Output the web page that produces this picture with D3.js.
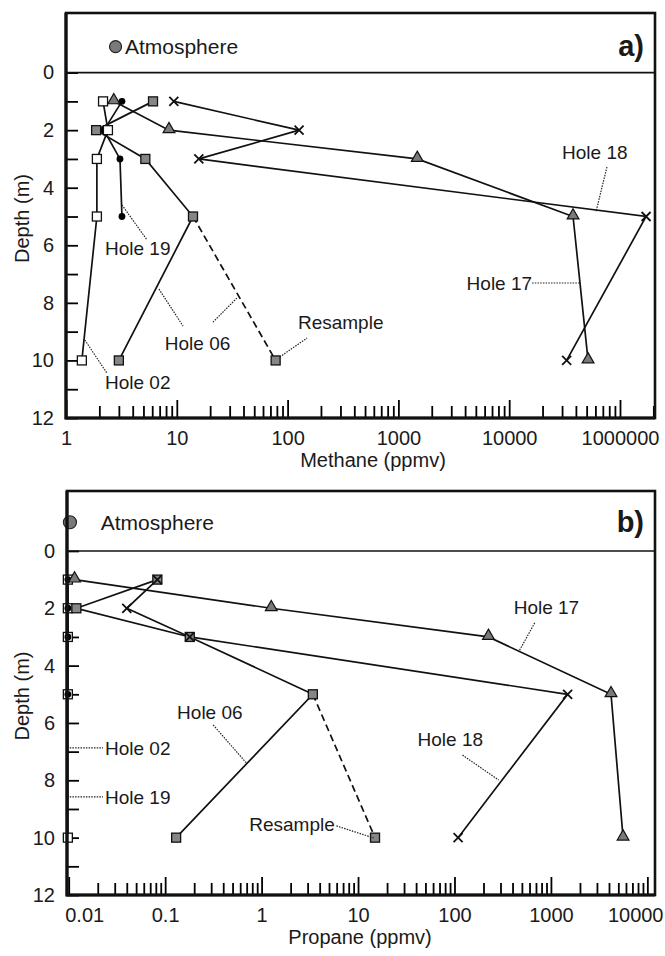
<!DOCTYPE html>
<meta charset="utf-8">
<head>
<script src="https://cdn.jsdelivr.net/npm/d3@7"></script>
<style>
  body { margin: 0; background: #fff; }
  svg text { font-family: "Liberation Sans", Arial, sans-serif; fill: #1a1a1a; }
</style>
</head>
<body>
<script>

// sampling depths (m)
var depths = [1, 2, 3, 5, 10];
var depths19 = [1, 2, 3, 5];
var depthTicks = [0, 1, 2, 3, 4, 5, 6, 7, 8, 9, 10, 11, 12];

// a) methane (ppmv)
var ch4Hole02 = [2.16, 2.39, 1.9, 1.9, 1.39];
var ch4Hole19 = [3.2, 2.2, 3.07, 3.2];
var ch4Hole17 = [2.7, 8.5, 1480, 37700, 51500];
var ch4Hole06 = [6.1, 1.87, 5.2, 14, 3.0];
var ch4Hole18 = [9.4, 127, 15.8, 172000, 33000];
var ch4Resample = 78;
var ch4Atmosphere = 2.8;
var ch4Ticks = [1, 10, 100, 1000, 10000, 100000];
var ch4TickLabels = ["1", "10", "100", "1000", "10000", "1000000"];

// b) propane (ppmv)
var c3Hole02 = [0.0098, 0.0098, 0.0098, 0.0098, 0.0098];
var c3Hole19 = [0.0098, 0.0098, 0.0098, 0.0098];
var c3Hole17 = [0.0115, 1.26, 225, 4200, 5600];
var c3Hole06 = [0.083, 0.012, 0.18, 3.4, 0.13];
var c3Hole18 = [0.083, 0.04, 0.18, 1490, 109];
var c3Resample = 15;
var c3Atmosphere = 0.0103;
var c3Ticks = [0.01, 0.1, 1, 10, 100, 1000, 10000];
var c3TickLabels = ["0.01", "0.1", "1", "10", "100", "1000", "10000"];

var W = 665, H = 956;

var svg = d3.select("body").append("svg")
    .attr("width", W)
    .attr("height", H);

function zip(vals, ds) {
  return vals.map(function(v, i) { return {v: v, d: ds[i]}; });
}

function drawPanel(o) {
  var g = svg.append("g");
  var x = d3.scaleLog().domain(o.xDomain).range([o.left, o.right]);
  var y = d3.scaleLinear().domain([o.yTop, 12]).range([o.top, o.bottom]);

  // minor log ticks
  var minor = [];
  var lo = Math.floor(Math.log10(o.xDomain[0])), hi = Math.ceil(Math.log10(o.xDomain[1]));
  for (var e = lo; e < hi; e++) {
    for (var k = 2; k <= 9; k++) {
      var v = k * Math.pow(10, e);
      if (v > o.xDomain[0] && v < o.xDomain[1]) minor.push(v);
    }
  }

  g.append("g")
      .attr("transform", "translate(0," + o.bottom + ")")
      .call(d3.axisBottom(x).tickValues(minor).tickSizeInner(-12).tickSizeOuter(0).tickFormat(""))
      .call(function(s) { s.select(".domain").remove(); s.selectAll("line").attr("stroke-width", 1.8); });

  var xa = g.append("g")
      .attr("transform", "translate(0," + o.bottom + ")")
      .call(d3.axisBottom(x).tickValues(o.ticks).tickSizeInner(-18).tickSizeOuter(0).tickPadding(13)
        .tickFormat(function(d, i) { return o.tickLabels[i]; }));
  xa.select(".domain").remove();
  xa.selectAll("line").attr("stroke-width", 1.8);
  xa.selectAll("text").style("font-size", "20px").attr("fill", "#1a1a1a")
    .each(function(d) {
      var t = d3.select(this), w = this.getComputedTextLength(), px = x(d);
      if (px - w / 2 < o.left - 6) t.attr("text-anchor", "start").attr("x", -4);
      else if (px + w / 2 > W - 2) t.attr("text-anchor", "end").attr("x", W - 2 - px);
    });

  var ya = g.append("g")
      .attr("transform", "translate(" + o.left + ",0)")
      .call(d3.axisLeft(y).tickValues(depthTicks).tickSizeInner(-12).tickSizeOuter(0).tickPadding(12)
        .tickFormat(function(d) { return d % 2 === 0 ? d : ""; }));
  ya.select(".domain").remove();
  ya.selectAll("line").attr("stroke-width", 1.8);
  ya.selectAll("text").style("font-size", "20px").attr("fill", "#1a1a1a");

  // ground surface line
  g.append("line")
      .attr("x1", o.left).attr("x2", o.right)
      .attr("y1", y(0)).attr("y2", y(0))
      .attr("stroke", "#111").attr("stroke-width", 1.6);

  var line = d3.line().x(function(d) { return x(d.v); }).y(function(d) { return y(d.d); });

  // resample (dashed)
  g.append("path")
      .datum([{v: o.hole06[3], d: 5}, {v: o.resample, d: 10}])
      .attr("d", line)
      .attr("fill", "none").attr("stroke", "#111").attr("stroke-width", 1.7)
      .attr("stroke-dasharray", "7,4");

  o.series.forEach(function(s) {
    g.append("path")
        .datum(s.pts)
        .attr("d", line)
        .attr("fill", "none").attr("stroke", "#111").attr("stroke-width", 1.7);
  });

  var allSeries = o.series.concat([{marker: "greySquare", pts: [{v: o.resample, d: 10}]}]);
  allSeries.forEach(function(s) {
    var m = g.selectAll(null).data(s.pts).enter();
    if (s.marker === "openSquare" || s.marker === "greySquare") {
      m.append("rect")
          .attr("x", function(d) { return x(d.v) - 4.5; })
          .attr("y", function(d) { return y(d.d) - 4.5; })
          .attr("width", 9).attr("height", 9)
          .attr("fill", s.marker === "openSquare" ? "#fff" : "#868686")
          .attr("stroke", "#111").attr("stroke-width", 1.3);
    } else if (s.marker === "dot") {
      m.append("circle")
          .attr("cx", function(d) { return x(d.v); })
          .attr("cy", function(d) { return y(d.d); })
          .attr("r", 3.4).attr("fill", "#000");
    } else if (s.marker === "triangle") {
      m.append("path")
          .attr("transform", function(d) { return "translate(" + x(d.v) + "," + (y(d.d) - 1) + ")"; })
          .attr("d", d3.symbol().type(d3.symbolTriangle).size(60))
          .attr("fill", "#7a7a7a").attr("stroke", "#111").attr("stroke-width", 1.2);
    } else if (s.marker === "cross") {
      m.append("path")
          .attr("transform", function(d) { return "translate(" + x(d.v) + "," + y(d.d) + ")"; })
          .attr("d", "M-4.5,-4.5L4.5,4.5M-4.5,4.5L4.5,-4.5")
          .attr("stroke", "#111").attr("stroke-width", 1.8);
    }
  });

  // annotations
  o.notes.forEach(function(n) {
    n.leaders.forEach(function(l) {
      g.append("line")
          .attr("x1", x(l[0])).attr("y1", y(l[1]))
          .attr("x2", x(l[2])).attr("y2", y(l[3]))
          .attr("stroke", "#222").attr("stroke-width", 1.2)
          .attr("stroke-dasharray", "1.5,1.2");
    });
    g.append("text")
        .attr("x", x(n.x)).attr("y", y(n.y))
        .attr("text-anchor", n.anchor || "start")
        .style("font-size", "19px")
        .text(n.text);
  });

  // atmosphere
  g.append("circle")
      .attr("cx", x(o.atmos)).attr("cy", y(o.atmosDepth))
      .attr("r", o.atmosR)
      .attr("fill", "#7a7a7a").attr("stroke", "#222").attr("stroke-width", 1.2);
  g.append("text")
      .attr("x", x(o.atmosLabelX)).attr("y", y(o.atmosDepth)).attr("dy", "0.35em")
      .style("font-size", "21px")
      .text("Atmosphere");

  // frame
  g.append("rect")
      .attr("x", o.left).attr("y", o.top)
      .attr("width", o.right - o.left).attr("height", o.bottom - o.top)
      .attr("fill", "none").attr("stroke", "#111").attr("stroke-width", 2.6);
  g.append("path")
      .attr("d", "M" + o.left + "," + o.top + "V" + o.bottom + "H" + o.right)
      .attr("fill", "none").attr("stroke", "#111").attr("stroke-width", 3.2);

  // panel letter
  g.append("text")
      .attr("x", o.right - 11).attr("y", y(o.atmosDepth)).attr("dy", "0.33em")
      .attr("text-anchor", "end")
      .style("font-size", "29px").style("font-weight", "bold")
      .text(o.letter);

  // axis titles
  g.append("text")
      .attr("transform", "translate(" + 29 + "," + ((o.top + o.bottom) / 2 + 3) + ") rotate(-90)")
      .attr("text-anchor", "middle")
      .style("font-size", "20px")
      .text("Depth (m)");
  g.append("text")
      .attr("x", o.titleX).attr("y", o.bottom + 49)
      .attr("text-anchor", "middle")
      .style("font-size", "20px")
      .text(o.title);
}

drawPanel({
  letter: "a)", title: "Methane (ppmv)", titleX: 373,
  left: 66, right: 655, top: 13, bottom: 418,
  xDomain: [1, 207000], yTop: -2.07,
  ticks: ch4Ticks, tickLabels: ch4TickLabels,
  hole06: ch4Hole06, resample: ch4Resample,
  atmos: ch4Atmosphere, atmosDepth: -0.9, atmosR: 6, atmosLabelX: 3.4,
  series: [
    {marker: "dot", pts: zip(ch4Hole19, depths19)},
    {marker: "openSquare", pts: zip(ch4Hole02, depths)},
    {marker: "greySquare", pts: zip(ch4Hole06, depths)},
    {marker: "triangle", pts: zip(ch4Hole17, depths)},
    {marker: "cross", pts: zip(ch4Hole18, depths)}
  ],
  notes: [
    {text: "Hole 19", x: 2.25, y: 6.34, leaders: [[3.2, 4.6, 5.4, 5.82]]},
    {text: "Hole 06", x: 7.8, y: 9.64, leaders: [[6.9, 7.52, 11.4, 8.81], [21.2, 8.67, 34.9, 7.83]]},
    {text: "Hole 02", x: 2.25, y: 11.0, leaders: [[1.48, 9.29, 2.34, 10.44]]},
    {text: "Resample", x: 124, y: 8.91, leaders: [[85, 9.88, 150, 9.22]]},
    {text: "Hole 17", x: 16100, y: 7.55, anchor: "end", leaders: [[16100, 7.31, 43500, 7.31]]},
    {text: "Hole 18", x: 30000, y: 3.0, leaders: [[76300, 3.28, 60700, 4.84]]}
  ]
});

drawPanel({
  letter: "b)", title: "Propane (ppmv)", titleX: 360,
  left: 67, right: 655, top: 491, bottom: 895,
  xDomain: [0.0096, 12000], yTop: -2.09,
  ticks: c3Ticks, tickLabels: c3TickLabels,
  hole06: c3Hole06, resample: c3Resample,
  atmos: c3Atmosphere, atmosDepth: -1.0, atmosR: 6.5, atmosLabelX: 0.0215,
  series: [
    {marker: "openSquare", pts: zip(c3Hole02, depths)},
    {marker: "dot", pts: zip(c3Hole19, depths19)},
    {marker: "greySquare", pts: zip(c3Hole06, depths)},
    {marker: "triangle", pts: zip(c3Hole17, depths)},
    {marker: "cross", pts: zip(c3Hole18, depths)}
  ],
  notes: [
    {text: "Hole 06", x: 0.133, y: 5.86, leaders: [[0.315, 6.07, 0.71, 7.43]]},
    {text: "Hole 18", x: 41.4, y: 6.8, leaders: [[121, 7.12, 287, 7.99]]},
    {text: "Hole 17", x: 411, y: 2.2, leaders: [[679, 2.51, 463, 3.52]]},
    {text: "Hole 02", x: 0.0238, y: 7.12, leaders: [[0.0096, 6.87, 0.0227, 6.87]]},
    {text: "Hole 19", x: 0.0238, y: 8.82, leaders: [[0.0096, 8.58, 0.0227, 8.58]]},
    {text: "Resample", x: 0.745, y: 9.77, leaders: [[5.97, 9.59, 14.5, 10.01]]}
  ]
});

</script>
</body>
